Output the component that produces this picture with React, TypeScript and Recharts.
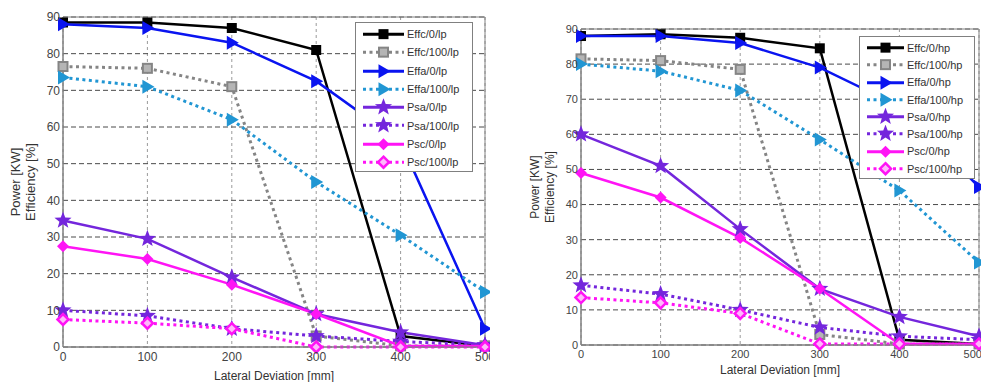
import { LineChart, Line, XAxis, YAxis, CartesianGrid, ReferenceArea } from 'recharts';

// lateral deviation categories [mm]
const deviation = [0, 100, 200, 300, 400, 500];
const yTicks = [0, 10, 20, 30, 40, 50, 60, 70, 80, 90];

// left panel: lp
const effc0Lp = [88.5, 88.5, 87, 81, 3, 0.3];
const effc100Lp = [76.5, 76, 71, 3, 0.3, 0.3];
const effa0Lp = [88, 87, 83, 72.5, 56, 5];
const effa100Lp = [73.5, 71, 62, 45, 30.5, 15];
const psa0Lp = [34.5, 29.5, 19, 9, 4, 0.5];
const psa100Lp = [10, 8.5, 5, 3, 1.5, 0.5];
const psc0Lp = [27.5, 24, 17, 9, 0.3, 0.3];
const psc100Lp = [7.5, 6.5, 5, 0, 0, 0];

// right panel: hp
const effc0Hp = [88, 88.5, 87.5, 84.5, 1.5, 0.3];
const effc100Hp = [81.5, 81, 78.5, 3, 0.3, 0.3];
const effa0Hp = [88, 88, 86, 79, 68, 45];
const effa100Hp = [80, 78, 72.5, 58.5, 44, 23.5];
const psa0Hp = [60, 51, 33, 16, 8, 2.5];
const psa100Hp = [17, 14.5, 10, 5, 2.5, 1.5];
const psc0Hp = [49, 42, 30.5, 16, 0.3, 0.3];
const psc100Hp = [13.5, 12, 9, 0.3, 0.3, 0.3];

type MarkerShape = 'square' | 'squareHollow' | 'triangle' | 'star' | 'diamond' | 'diamondHollow';

interface SeriesStyle {
    key: string;
    label: string;
    color: string;
    dotted: boolean;
    marker: MarkerShape;
}

const seriesStyles: SeriesStyle[] = [
    { key: 'effc0', label: 'Effc/0', color: '#000000', dotted: false, marker: 'square' },
    { key: 'effc100', label: 'Effc/100', color: '#858585', dotted: true, marker: 'squareHollow' },
    { key: 'effa0', label: 'Effa/0', color: '#0a14f0', dotted: false, marker: 'triangle' },
    { key: 'effa100', label: 'Effa/100', color: '#2196d3', dotted: true, marker: 'triangle' },
    { key: 'psa0', label: 'Psa/0', color: '#7426dc', dotted: false, marker: 'star' },
    { key: 'psa100', label: 'Psa/100', color: '#7426dc', dotted: true, marker: 'star' },
    { key: 'psc0', label: 'Psc/0', color: '#ff14f5', dotted: false, marker: 'diamond' },
    { key: 'psc100', label: 'Psc/100', color: '#ff14f5', dotted: true, marker: 'diamondHollow' },
];

function buildRows(values: number[][]) {
    return deviation.map((d, i) => {
        const row: Record<string, number> = { deviation: d };
        seriesStyles.forEach((s, j) => {
            row[s.key] = values[j][i];
        });
        return row;
    });
}

const lpRows = buildRows([effc0Lp, effc100Lp, effa0Lp, effa100Lp, psa0Lp, psa100Lp, psc0Lp, psc100Lp]);
const hpRows = buildRows([effc0Hp, effc100Hp, effa0Hp, effa100Hp, psa0Hp, psa100Hp, psc0Hp, psc100Hp]);

function starPoints(cx: number, cy: number, outer: number, inner: number) {
    const pts: string[] = [];
    for (let i = 0; i < 10; i++) {
        const r = i % 2 === 0 ? outer : inner;
        const a = -Math.PI / 2 + (i * Math.PI) / 5;
        pts.push(`${cx + r * Math.cos(a)},${cy + r * Math.sin(a)}`);
    }
    return pts.join(' ');
}

function Marker({ cx, cy, shape, color }: { cx: number; cy: number; shape: MarkerShape; color: string }) {
    switch (shape) {
        case 'square':
            return <rect x={cx - 5} y={cy - 5} width={10} height={10} fill={color} />;
        case 'squareHollow':
            return <rect x={cx - 4.5} y={cy - 4.5} width={9} height={9} fill="#b5b5b5" stroke={color} strokeWidth={2} />;
        case 'triangle':
            return <polygon points={`${cx - 5},${cy - 7} ${cx + 7},${cy} ${cx - 5},${cy + 7}`} fill={color} />;
        case 'star':
            return <polygon points={starPoints(cx, cy, 9, 3.8)} fill={color} />;
        case 'diamond':
            return <polygon points={`${cx},${cy - 6} ${cx + 6},${cy} ${cx},${cy + 6} ${cx - 6},${cy}`} fill={color} />;
        case 'diamondHollow':
            return (
                <polygon
                    points={`${cx},${cy - 5.5} ${cx + 5.5},${cy} ${cx},${cy + 5.5} ${cx - 5.5},${cy}`}
                    fill="#ffb8fb"
                    stroke={color}
                    strokeWidth={2.5}
                />
            );
    }
    return null;
}

interface LegendBoxProps {
    suffix: string;
    left: number;
    top: number;
    width: number;
    height: number;
    rowHeight: number;
    sampleWidth: number;
}

function LegendBox({ suffix, left, top, width, height, rowHeight, sampleWidth }: LegendBoxProps) {
    return (
        <div
            style={{
                position: 'absolute',
                left,
                top,
                width,
                height,
                boxSizing: 'border-box',
                border: '1px solid #808080',
                background: '#fff',
                paddingTop: 2,
                paddingLeft: 7,
            }}
        >
            {seriesStyles.map(s => (
                <div key={s.key} style={{ display: 'flex', alignItems: 'center', height: rowHeight }}>
                    <svg width={sampleWidth} height={rowHeight} style={{ display: 'block' }}>
                        <line
                            x1={0}
                            x2={sampleWidth}
                            y1={rowHeight / 2}
                            y2={rowHeight / 2}
                            stroke={s.color}
                            strokeWidth={s.dotted ? 3 : 3}
                            strokeDasharray={s.dotted ? '3 3.5' : undefined}
                        />
                        <Marker cx={sampleWidth / 2} cy={rowHeight / 2} shape={s.marker} color={s.color} />
                    </svg>
                    <span style={{ fontSize: 11, color: '#333', marginLeft: 3, whiteSpace: 'nowrap' }}>
                        {s.label}/{suffix}
                    </span>
                </div>
            ))}
        </div>
    );
}

interface PanelProps {
    rows: Record<string, number>[];
    width: number;
    margin: { top: number; right: number; bottom: number; left: number };
    yAxisWidth: number;
    xAxisHeight: number;
    titleX: [number, number];
    titleSize: number;
    tickSize: number;
    xTitleOffset: number;
}

function Panel({ rows, width, margin, yAxisWidth, xAxisHeight, titleX, titleSize, tickSize, xTitleOffset }: PanelProps) {
    return (
        <LineChart width={width} height={382} data={rows} margin={margin}>
            <CartesianGrid horizontal={false} stroke="#9a9a9a" strokeDasharray="3 3" />
            <CartesianGrid vertical={false} stroke="#4a4a4a" strokeDasharray="5 3" />
            <ReferenceArea x1={0} x2={500} y1={0} y2={90} fill="none" stroke="#808080" strokeWidth={1} />
            <XAxis
                dataKey="deviation"
                type="number"
                domain={[0, 500]}
                ticks={deviation}
                height={xAxisHeight}
                tickLine={false}
                tickSize={0}
                tickMargin={5}
                axisLine={{ stroke: '#808080' }}
                tick={{ fill: '#444', fontSize: tickSize }}
                label={{ value: 'Lateral Deviation [mm]', position: 'insideBottom', offset: xTitleOffset, fill: '#333', fontSize: 12 }}
            />
            <YAxis
                type="number"
                domain={[0, 90]}
                ticks={yTicks}
                width={yAxisWidth}
                tickLine={false}
                tickSize={0}
                tickMargin={3}
                axisLine={{ stroke: '#808080' }}
                tick={{ fill: '#444', fontSize: tickSize }}
                label={{
                    content: (p: any) => {
                        const vb = p.viewBox || { y: 0, height: 0 };
                        const cy = vb.y + vb.height / 2;
                        return (
                            <g fill="#333" fontSize={titleSize}>
                                <text x={titleX[0]} y={cy} transform={`rotate(-90 ${titleX[0]} ${cy})`} textAnchor="middle" dominantBaseline="central">
                                    Power [KW]
                                </text>
                                <text x={titleX[1]} y={cy} transform={`rotate(-90 ${titleX[1]} ${cy})`} textAnchor="middle" dominantBaseline="central">
                                    Efficiency [%]
                                </text>
                            </g>
                        );
                    },
                }}
            />
            {seriesStyles.map(s => (
                <Line
                    key={s.key}
                    dataKey={s.key}
                    type="linear"
                    stroke={s.color}
                    strokeWidth={s.dotted ? 3 : 2.5}
                    strokeDasharray={s.dotted ? '3 3.5' : undefined}
                    isAnimationActive={false}
                    dot={(p: any) => <Marker key={`${s.key}-${p.index}`} cx={p.cx} cy={p.cy} shape={s.marker} color={s.color} />}
                    activeDot={false}
                />
            ))}
        </LineChart>
    );
}

export default function App() {
    return (
        <div
            style={{
                position: 'absolute',
                left: 0,
                top: 0,
                width: 981,
                height: 382,
                background: '#fff',
                overflow: 'hidden',
                fontFamily: '"Liberation Sans", Arial, sans-serif',
            }}
        >
            <div style={{ position: 'absolute', left: 0, top: 0, width: 490, height: 382, overflow: 'hidden' }}>
                <Panel
                    rows={lpRows}
                    width={520}
                    margin={{ top: 17, right: 35, bottom: 0, left: 0 }}
                    yAxisWidth={63}
                    xAxisHeight={35}
                    titleX={[15, 30]}
                    titleSize={13}
                    tickSize={12}
                    xTitleOffset={2}
                />
                <LegendBox suffix="lp" left={355} top={22} width={118} height={150} rowHeight={18.3} sampleWidth={41} />
            </div>
            <div style={{ position: 'absolute', left: 490, top: 0, width: 491, height: 382, overflow: 'hidden' }}>
                <Panel
                    rows={hpRows}
                    width={491}
                    margin={{ top: 29, right: 2, bottom: 0, left: 0 }}
                    yAxisWidth={91}
                    xAxisHeight={37}
                    titleX={[45, 60]}
                    titleSize={12}
                    tickSize={11}
                    xTitleOffset={8}
                />
                <LegendBox suffix="hp" left={369} top={36} width={116} height={143} rowHeight={17.3} sampleWidth={37} />
            </div>
        </div>
    );
}
